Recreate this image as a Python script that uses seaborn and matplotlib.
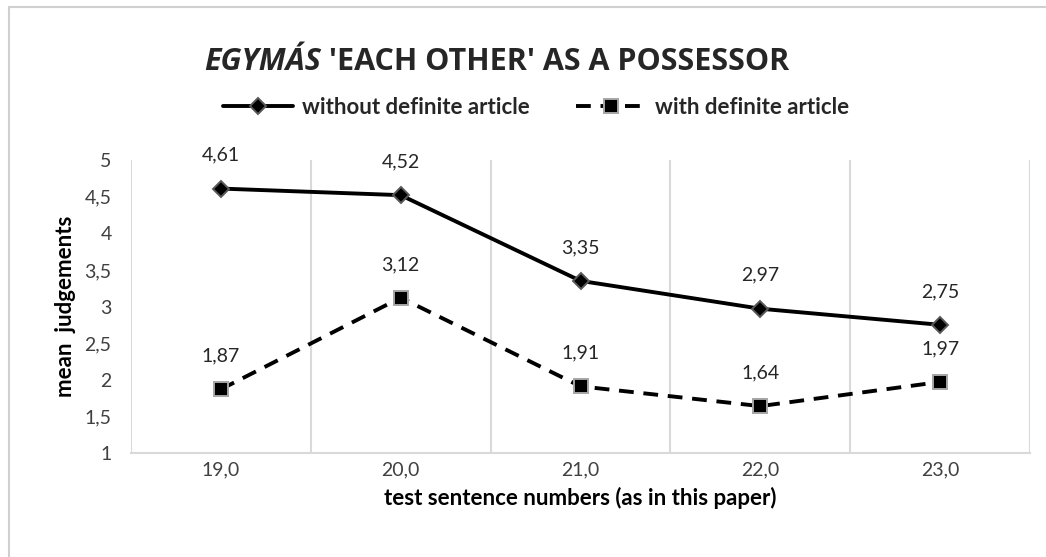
import matplotlib
matplotlib.use("Agg")
import matplotlib.pyplot as plt
import seaborn as sns
import pandas as pd
from matplotlib.patches import Rectangle
from matplotlib.ticker import FuncFormatter, MultipleLocator

# data
sentences = ["19,0", "20,0", "21,0", "22,0", "23,0"]
without_article = [4.61, 4.52, 3.35, 2.97, 2.75]
with_article = [1.87, 3.12, 1.91, 1.64, 1.97]
label_without = "without definite article"
label_with = "with definite article"

df = pd.DataFrame({"sentence": sentences,
                   "without": without_article,
                   "with": with_article})

sns.set_theme(style="white")
plt.rcParams["font.family"] = ["Lato", "DejaVu Sans"]

fig = plt.figure(figsize=(10.46, 5.57), dpi=100)
ax = fig.add_axes([131/1046, 1-453/557, (1030-131)/1046, (453-160)/557])

sns.lineplot(data=df, x="sentence", y="without", sort=False, ax=ax,
             color="black", lw=2.8, marker="D", markersize=8.5,
             markerfacecolor="black", markeredgecolor="#595959",
             markeredgewidth=1.4, label=label_without)
sns.lineplot(data=df, x="sentence", y="with", sort=False, ax=ax,
             color="black", lw=2.8, linestyle=(0, (3.8, 2.5)), marker="s",
             markersize=10.5, markerfacecolor="black", markeredgecolor="#a6a6a6",
             markeredgewidth=1.4, label=label_with)

# data labels, decimal comma
for series in [without_article, with_article]:
    for i, v in enumerate(series):
        ax.annotate(f"{v:.2f}".replace(".", ","), (i, v), xytext=(0, 24),
                    textcoords="offset points", ha="center", va="center",
                    fontsize=14, color="#262626")

ax.set_xlim(-0.5, len(sentences) - 0.5)
ax.set_ylim(1, 5)
ax.yaxis.set_major_locator(MultipleLocator(0.5))
ax.yaxis.set_major_formatter(FuncFormatter(lambda v, p: f"{v:g}".replace(".", ",")))
ax.xaxis.set_minor_locator(MultipleLocator(1, offset=0.5))
ax.grid(which="minor", axis="x", color="#d9d9d9", lw=1.5)
ax.grid(which="major", visible=False)
ax.tick_params(axis="both", which="both", length=0, labelsize=14, colors="#404040")
ax.tick_params(axis="x", pad=6)
ax.tick_params(axis="y", pad=14)
for s in ["top", "left", "right"]:
    ax.spines[s].set_visible(False)
ax.spines["bottom"].set_color("#d9d9d9")
ax.spines["bottom"].set_linewidth(1.5)

ax.set_xlabel("test sentence numbers (as in this paper)", fontsize=16,
              fontweight="bold", color="black", labelpad=6)
ax.set_ylabel("mean  judgements", fontsize=16, fontweight="bold",
              color="black", labelpad=6)

ax.legend(loc="center", bbox_to_anchor=(536/1046, 1-107/557),
          bbox_transform=fig.transFigure, ncol=2, frameon=False,
          prop={"weight": "bold", "size": 16}, handlelength=3.15,
          handletextpad=0.4, columnspacing=2.1)

# title: italic word + rest
tfont = ["Open Sans", "DejaVu Sans"]
t1 = fig.text(204/1046, 1-62/557, "EGYMÁS", fontsize=22, fontweight="bold",
              fontstyle="italic", ha="left", va="center", family=tfont)
ax.annotate(" 'EACH OTHER' AS A POSSESSOR", xy=(1, 0.5), xycoords=t1,
            ha="left", va="center", fontsize=22, fontweight="bold",
            family=tfont, annotation_clip=False)

# outer chart border
fig.patches.append(Rectangle((9/1046, -0.5), 1.5, 1.5 - 7/557,
                             transform=fig.transFigure, fill=False,
                             edgecolor="#d0d0d0", lw=1.5))

fig.savefig("out.png", dpi=100)
